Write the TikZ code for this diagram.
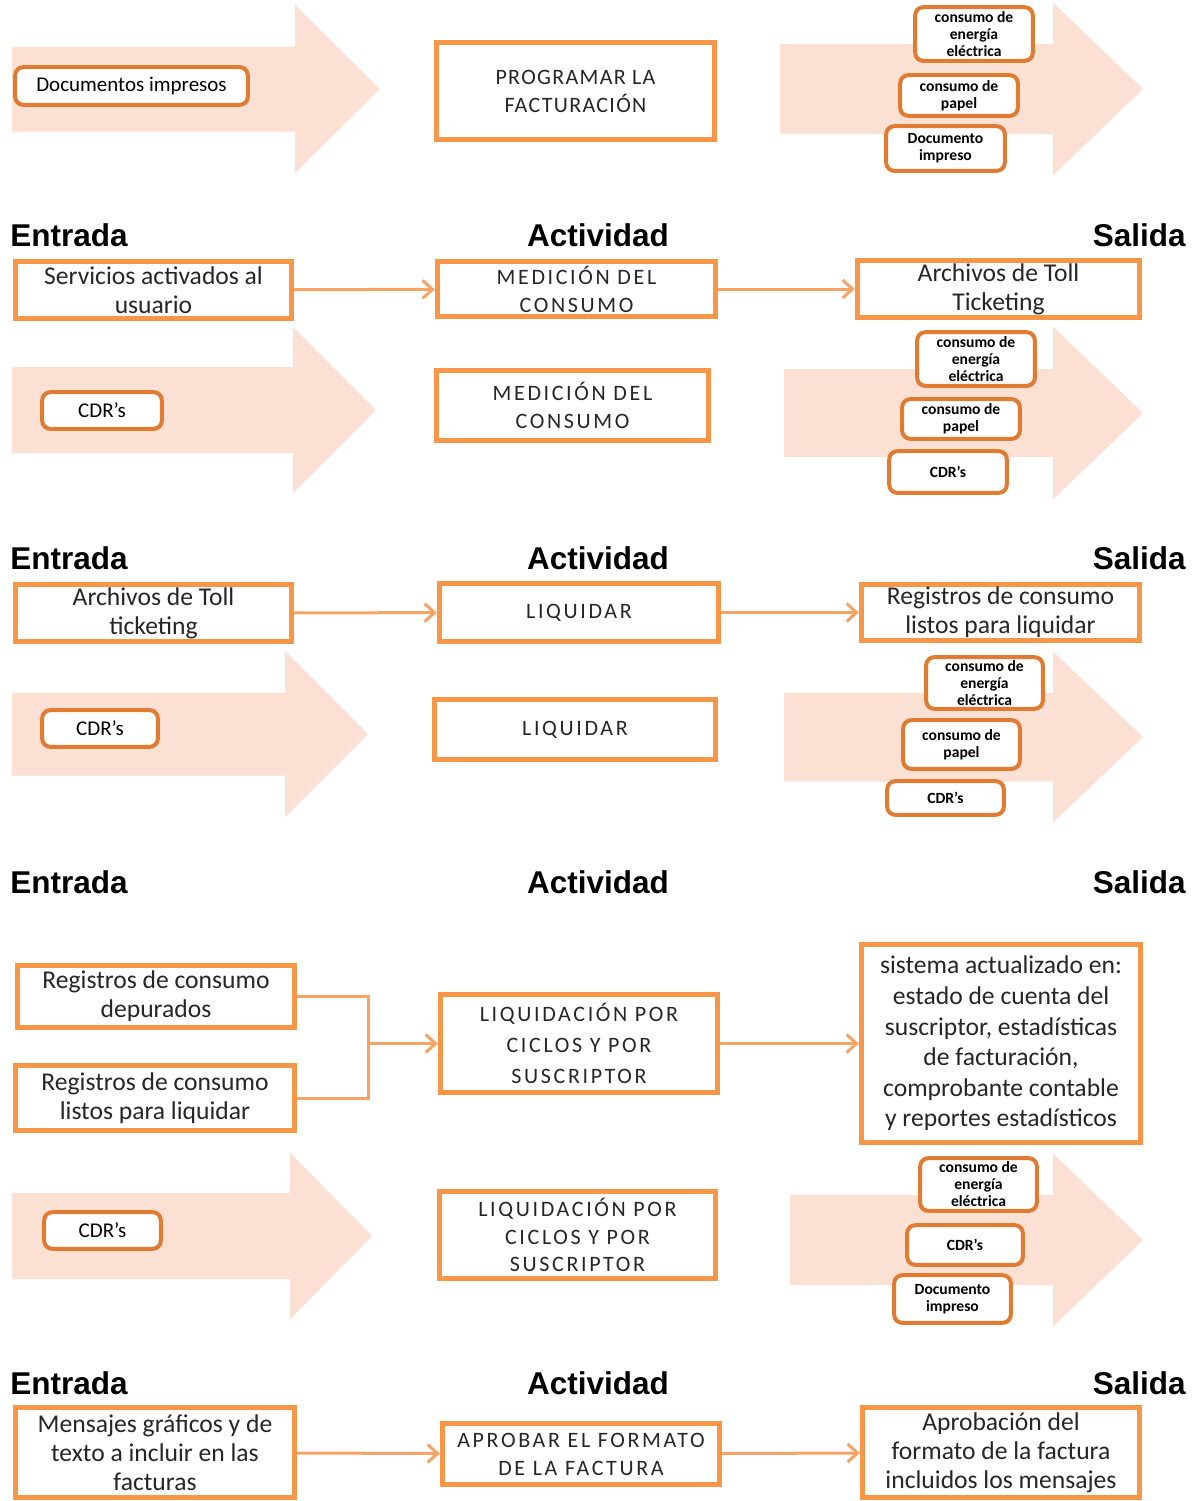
\documentclass[tikz,border=0pt]{standalone}
\usepackage{fontspec}
\setmainfont{Carlito}
\newfontfamily\headfont{Liberation Sans}
\newfontfamily\capsfont[LetterSpace=12]{Carlito}
\newfontfamily\capsnarrow[LetterSpace=6]{Carlito}
\usetikzlibrary{arrows.meta}

\definecolor{boxline}{HTML}{F79646}
\definecolor{pillline}{HTML}{E07B31}
\definecolor{bigarrow}{HTML}{FBE0D3}
\definecolor{connline}{HTML}{F8A366}
\definecolor{ink}{HTML}{262626}

\tikzset{
  placed/.style n args={4}{at={({(#1+#3)/2},{(#2+#4)/2})},
    minimum width={(#3-#1)*0.5pt-2.2pt}, minimum height={(#4-#2)*0.5pt-2.2pt}},
  proc/.style={draw=boxline, line width=2.4pt, fill=white, align=center, text=ink,
    inner sep=1pt, font=\fontsize{12.8}{14.5}\selectfont},
  actbox/.style={proc, font=\capsfont\fontsize{11}{14}\selectfont},
  pill/.style={draw=pillline, line width=2pt, rounded corners=4pt, fill=white,
    align=center, text=black, inner sep=1pt},
  intext/.style={font=\fontsize{10.5}{12}\selectfont},
  tinytext/.style={font=\bfseries\fontsize{7.8}{8.5}\selectfont},
  conn/.style={draw=connline, line width=1.5pt,
    -{Straight Barb[length=5pt,width=9pt,line width=1.5pt]}},
  plainconn/.style={draw=connline, line width=1.5pt},
  header/.style={font=\headfont\bfseries\fontsize{15.75}{18}\selectfont, inner sep=0pt},
}

% broad flow arrow: start x, neck x, tip x, centre y, half body, half head
\newcommand\fatarrow[6]{%
  \fill[bigarrow] (#1,#4-#5) -- (#2,#4-#5) -- (#2,#4-#6) -- (#3,#4)
    -- (#2,#4+#6) -- (#2,#4+#5) -- (#1,#4+#5) -- cycle;}

\begin{document}
\begin{tikzpicture}[x=0.5pt,y=-0.5pt]
\useasboundingbox (0,0) rectangle (1203,1501);

% ---------- block 1: programar la facturacion ----------
\fatarrow{12}{295}{380}{89}{42.5}{84}
\fatarrow{780}{1053}{1143}{89}{45}{86.5}
\node[pill, intext, placed={13}{65}{250}{107}] (b1in) {Documentos impresos};
\node[actbox, font=\capsnarrow\fontsize{11}{14}\selectfont, placed={434}{40}{717}{142}] (b1act) {PROGRAMAR LA\\FACTURACIÓN};
\node[pill, tinytext, placed={913}{5}{1035}{63}] (b1o1) {consumo de\\energía\\eléctrica};
\node[pill, tinytext, placed={898}{73}{1020}{118}] (b1o2) {consumo de\\papel};
\node[pill, tinytext, placed={884}{124}{1007}{173}] (b1o3) {Documento\\impreso};

% ---------- block 2: medicion del consumo ----------
\node[header, anchor=base west] (h1e) at (10,246) {Entrada};
\node[header, anchor=base] (h1a) at (598,246) {Actividad};
\node[header, anchor=base east] (h1s) at (1186,246) {Salida};

\node[proc, placed={13}{259}{294}{321}] (m1in) {Servicios activados al\\usuario};
\node[actbox, placed={435}{259}{718}{319}] (m1act) {MEDICIÓN DEL\\CONSUMO};
\node[proc, placed={855}{258}{1142}{320}] (m1out) {Archivos de Toll\\Ticketing};
\draw[conn] (m1in) -- (m1act);
\draw[conn] (m1act) -- (m1out);

\fatarrow{12}{293}{376}{410}{43}{83}
\fatarrow{784}{1053}{1143}{413}{44}{86.5}
\node[pill, intext, placed={40}{390}{164}{431}] (m2in) {CDR's};
\node[actbox, placed={434}{368}{711}{443}] (m2act) {MEDICIÓN DEL\\CONSUMO};
\node[pill, tinytext, placed={915}{330}{1037}{388}] (m2o1) {consumo de\\energía\\eléctrica};
\node[pill, tinytext, placed={900}{397}{1022}{441}] (m2o2) {consumo de\\papel};
\node[pill, tinytext, placed={887}{449}{1009}{495}] (m2o3) {CDR's};

% ---------- block 3: liquidar ----------
\node[header, anchor=base west] (h2e) at (10,569) {Entrada};
\node[header, anchor=base] (h2a) at (598,569) {Actividad};
\node[header, anchor=base east] (h2s) at (1186,569) {Salida};

\node[proc, placed={13}{582}{294}{644}] (l1in) {Archivos de Toll\\ticketing};
\node[actbox, placed={437}{581}{721}{644}] (l1act) {LIQUIDAR};
\node[proc, placed={859}{582}{1142}{643}] (l1out) {Registros de consumo\\listos para liquidar};
\draw[conn] (l1in) -- (l1act);
\draw[conn] (l1act) -- (l1out);

\fatarrow{12}{285}{368}{734}{41.5}{83}
\fatarrow{784}{1053}{1143}{737}{44.5}{85.5}
\node[pill, intext, placed={40}{708}{160}{749}] (l2in) {CDR's};
\node[actbox, placed={432}{697}{718}{762}] (l2act) {LIQUIDAR};
\node[pill, tinytext, placed={924}{655}{1045}{711}] (l2o1) {consumo de\\energía\\eléctrica};
\node[pill, tinytext, placed={901}{718}{1022}{771}] (l2o2) {consumo de\\papel};
\node[pill, tinytext, placed={885}{779}{1006}{817}] (l2o3) {CDR's};

% ---------- block 4: liquidacion por ciclos ----------
\node[header, anchor=base west] (h3e) at (10,893) {Entrada};
\node[header, anchor=base] (h3a) at (598,893) {Actividad};
\node[header, anchor=base east] (h3s) at (1186,893) {Salida};

\node[proc, placed={15}{963}{297}{1030}] (c1in) {Registros de consumo\\depurados};
\node[proc, placed={13}{1063}{297}{1133}] (c2in) {Registros de consumo\\listos para liquidar};
\node[actbox, font=\capsfont\fontsize{11}{15.5}\selectfont, placed={438}{992}{720}{1095}] (c1act)
  {LIQUIDACIÓN POR\\CICLOS Y POR\\SUSCRIPTOR};
\node[proc, font=\fontsize{12.8}{15.3}\selectfont, placed={859}{942}{1143}{1145}] (c1out)
  {sistema actualizado en:\\estado de cuenta del\\suscriptor, estadísticas\\de facturación,\\comprobante contable\\y reportes estadísticos};
\coordinate (join) at (368,1045);
\draw[plainconn] (c1in.east) -| (join |- c2in.east) -- (c2in.east);
\draw[conn] (join |- c1act.west) -- (c1act.west);
\draw[conn] (c1act) -- (c1out);

\fatarrow{12}{290}{372}{1236}{43}{83.5}
\fatarrow{790}{1053}{1143}{1240}{45}{86.5}
\node[pill, intext, placed={42}{1210}{163}{1251}] (c3in) {CDR's};
\node[actbox, font=\capsfont\fontsize{11}{13.8}\selectfont, placed={437}{1189}{718}{1281}] (c2act)
  {LIQUIDACIÓN POR\\CICLOS Y POR\\SUSCRIPTOR};
\node[pill, tinytext, placed={918}{1156}{1039}{1213}] (c3o1) {consumo de\\energía\\eléctrica};
\node[pill, tinytext, placed={905}{1223}{1025}{1267}] (c3o2) {CDR's};
\node[pill, tinytext, placed={892}{1273}{1013}{1325}] (c3o3) {Documento\\impreso};

% ---------- block 5: aprobar el formato ----------
\node[header, anchor=base west] (h4e) at (10,1394) {Entrada};
\node[header, anchor=base] (h4a) at (598,1394) {Actividad};
\node[header, anchor=base east] (h4s) at (1186,1394) {Salida};

\node[proc, placed={13}{1405}{297}{1500}] (f1in) {Mensajes gráficos y de\\texto a incluir en las\\facturas};
\node[actbox, placed={440}{1421}{722}{1487}] (f1act) {APROBAR EL FORMATO\\DE LA FACTURA};
\node[proc, placed={860}{1405}{1142}{1500}] (f1out) {Aprobación del\\formato de la factura\\incluidos los mensajes};
\draw[conn] (f1in) -- (f1act);
\draw[conn] (f1act) -- (f1out);
\end{tikzpicture}
\end{document}
